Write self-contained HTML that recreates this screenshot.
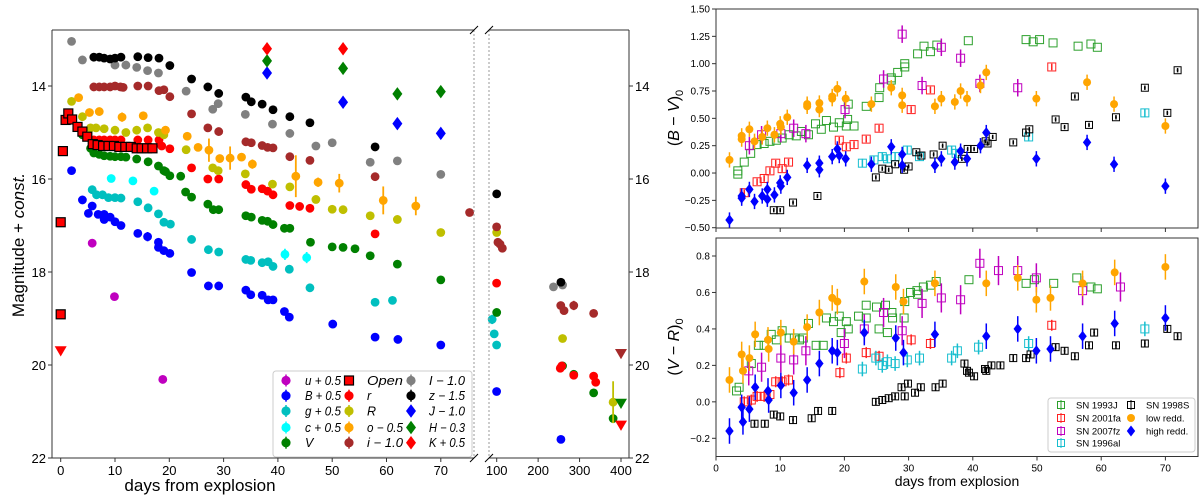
<!DOCTYPE html>
<html><head><meta charset="utf-8">
<style>
html,body{margin:0;padding:0;background:#fff;}
svg{display:block;font-family:"Liberation Sans","DejaVu Sans",sans-serif;}
</style></head>
<body>
<svg id="fig" width="1200" height="497" viewBox="0 0 1200 497" xmlns="http://www.w3.org/2000/svg">
<g id="left"></g>
<g id="right"></g>
</svg>
<script>
// ---------- Left panel data: [day, mag, err] ----------
const uBand=[[5.8,17.38],[9.9,18.53],[18.8,20.31]];
const BBand=[[2,15.82],[4,16.45],[5.1,16.74],[5.8,16.58],[6.9,16.76],[8,16.76],[8,16.87],[9.1,16.82],[10,16.92],[11.1,17.0],[14.2,17.17],[16,17.24,0.1],[18,17.36],[18,17.47],[19,17.54],[20.1,17.6],[24.1,18.01],[27.2,18.3],[29.1,18.3],[34.1,18.39],[35,18.49],[37.1,18.5],[38.2,18.6],[39.1,18.6],[41.2,18.85],[42.1,18.97],[50.1,19.12],[57.9,19.4],[62.1,19.45],[70,19.57],[99.8,20.57],[255,21.6,0.08]];
const gBand=[[5.8,16.23],[6.6,16.34],[7.7,16.34],[8.8,16.4],[10,16.4],[11.1,16.41],[14.2,16.49],[16.1,16.62],[18,16.75],[19,16.93],[20.2,16.97],[24.1,17.3],[27.2,17.52],[29.1,17.57],[34.1,17.73],[35,17.75],[37.1,17.8],[38.2,17.78],[39.1,17.88],[42.1,17.94],[45.9,18.34],[57.9,18.65],[61.1,18.61],[89,19.02,0.1],[94,19.33],[99.8,19.57]];
const cBand=[[9.3,15.99],[13.3,16.04],[17.2,16.26],[41.3,17.62,0.12],[45.3,17.69,0.12]];
const VBand=[[4,15.05,0.08],[5.5,15.34],[6.1,15.44],[7.1,15.47],[8,15.5],[9.1,15.51],[10,15.52],[11.1,15.52],[12,15.53],[14,15.57],[16.1,15.63],[18,15.72],[19,15.82],[19.3,15.84],[20.1,15.93],[22.1,15.94],[23,16.28],[24.1,16.39],[27.1,16.54],[28.1,16.66],[29.1,16.66],[34.1,16.79],[35.1,16.82],[37.1,16.89],[38.1,16.91],[39.1,16.98],[41.2,17.06],[42.2,17.06],[46,17.36],[50,17.46],[52,17.47],[54.2,17.5],[57,17.65],[62,17.83],[70,18.17],[100,18.87],[259,20.02],[286,20.2,0.05],[334,20.6],[381,21.15,0.06]];
const openBand=[[0,16.93],[0,18.91,0.1],[0.4,15.4],[0.9,14.73],[1.4,14.59],[2.1,14.72],[3.1,14.88],[4,14.98],[4.9,15.09],[5.9,15.25],[6.8,15.27],[7.8,15.29],[8.8,15.29],[9.8,15.29],[10.8,15.31],[11.9,15.31],[12.9,15.31],[14,15.34],[14.9,15.34],[15.9,15.34],[16.9,15.34]];
const rBand=[[6.1,15.16],[7.1,15.16],[8,15.16],[9.1,15.16],[10,15.16],[11.1,15.16],[14.2,15.16],[16.1,15.16],[18.1,15.16],[18.6,15.29],[20.1,15.35],[24.1,15.76],[27.1,16.0],[29.1,16.0],[34.1,16.12],[35.1,16.22],[37.1,16.21],[38.1,16.26],[39.1,16.34],[42.2,16.57],[44,16.59],[45.9,16.63],[57.9,17.18,0.08],[99.8,18.24],[253.5,20.07],[257,20.02],[286,20.22],[334,20.24],[339,20.37]];
const RBand=[[2,14.33],[4,14.66],[5.5,14.9],[6.5,14.9],[8,14.92],[10,14.95],[12,15.0],[14,14.95],[16,14.9],[18,15.0],[19,15.05],[23.1,15.37],[28,15.76],[29,15.82],[34,15.89],[39,16.11],[42.2,16.17],[47,16.44],[50,16.65],[52,16.66],[57,16.79],[62,16.87],[70,17.15],[100,17.15],[259,19.43],[381,20.8,0.45]];
const oBand=[[3.3,14.25,0.05],[5.3,14.57],[7.1,14.55],[11.3,14.67,0.1],[15.2,14.64,0.08],[19.3,14.95],[23.3,15.08],[25.3,15.32],[27.3,15.38,0.25],[29.3,15.56],[31.2,15.55,0.25],[33.3,15.53,0.08],[35.3,15.68,0.1],[43.3,15.94,0.45],[47.4,16.07,0.1],[51.3,16.09,0.2],[59.4,16.46,0.3],[65.4,16.58,0.2]];
const iBand=[[6.1,14.02],[7.1,14.02],[8,14.02],[9.1,14.02],[10,14.0],[11,14.02],[11.5,14.03],[14.2,14.0],[16.1,14.0],[18.1,14.1],[19,14.08],[20.1,14.23],[24.1,14.6],[27.1,14.9],[29.1,14.98],[34.1,15.2],[35.1,15.22],[37.1,15.28],[38.1,15.32],[39.1,15.33],[42.2,15.52],[45.9,15.6],[57.9,15.95],[75.3,16.72],[99.8,17.03],[103,17.36],[108,17.4],[113.6,17.49],[254.6,18.72],[262.5,18.83],[286,18.72,0.1],[334,18.89]];
const IBand=[[2,13.04],[4,13.44],[10,13.55],[12,13.55],[14,13.6],[16,13.67],[18,13.72],[23.1,14.11],[28,14.5],[29,14.38],[34,14.61,0.08],[39,14.82],[42.2,15.02],[47,15.29],[50,15.22],[57,15.64],[62,15.61],[70,15.9],[237,18.32],[259,18.28]];
const zBand=[[6.1,13.38],[7.1,13.38],[8,13.4],[9.1,13.42],[10,13.4],[11.1,13.38],[14.2,13.37],[16.1,13.39],[18.1,13.4],[20.1,13.56],[24.1,13.85],[27.1,14.02],[29.1,14.16],[34.1,14.24],[35.1,14.34],[37.1,14.39],[39.1,14.51],[42.2,14.66],[45.9,14.79],[57.9,15.31],[100,16.32],[255,18.22]];
const JBand=[[38,13.72],[52,14.35],[62,14.81,0.1],[70,15.02,0.12]];
const HBand=[[38,13.46],[52,13.62],[62,14.17],[70,14.12]];
const KBand=[[38,13.2],[52,13.2]];
const upperLimits=[[0,19.7,'#ff0000'],[400,19.76,'#a52a2a'],[400,20.83,'#008000'],[400,21.3,'#ff0000']];
const magTicks=[14,16,18,20,22];
const earlyDayTicks=[0,10,20,30,40,50,60,70];
const lateDayTicks=[100,200,300,400];

// ---------- Right panels data: [day, value] ----------
const bv93J=[[3.4,-0.01],[3.4,0.02],[4.4,0.10],[5.4,0.18],[6.4,0.26],[7.5,0.27],[8.4,0.29],[9.4,0.30],[10.3,0.32],[11.4,0.35],[12.5,0.34],[13.3,0.38],[14.4,0.35],[15.5,0.45],[16.4,0.40],[17.2,0.48],[18.3,0.42],[19.2,0.46],[20.3,0.43],[20.5,0.49],[21.5,0.43],[20.6,0.63],[23.4,0.61],[25.4,0.69],[25.5,0.78],[27.3,0.85],[27.3,0.87],[28.3,0.92],[29.4,0.97],[29.4,1.0],[31.4,1.09],[32.4,1.16],[33.4,1.11],[34.4,1.17],[39.3,1.21],[48.3,1.22],[49.4,1.2],[50.4,1.22],[52.5,1.19],[56.4,1.16],[58.4,1.18],[59.4,1.15]];
const bv01fa=[[4.4,-0.18],[6.4,-0.08],[7.5,-0.05],[8.4,0.02],[9.3,0.09],[10.3,0.04],[11.3,0.10],[19.2,0.30],[20.3,0.24],[21.5,0.26],[23.4,0.31],[25.4,0.41],[30.4,0.58],[33.4,0.76],[52.3,0.97]];
const bv07fz=[[5.2,0.25],[7.1,0.35],[10.1,0.36],[12.1,0.41],[14,0.36],[20.1,0.58],[26.1,0.86],[29,1.27],[32.1,0.80],[35.1,1.15],[38.1,1.05],[41.1,0.82],[47,0.78]];
const bv96al=[[22.8,0.09],[24.6,0.12],[25.9,0.15],[26.7,0.13],[27.9,0.15],[29.8,0.21],[31.7,0.15],[36.7,0.21],[37.4,0.18],[48.7,0.33],[66.8,0.55]];
const bv98S=[[9,-0.34],[10,-0.34],[12,-0.27],[15.8,-0.21],[24.9,-0.04],[25.9,0.04],[26.9,0.03],[27.9,0.08],[29.3,0.03],[30,0.06],[31.2,0.19],[32,0.16],[33.9,0.17],[35.3,0.25],[38.3,0.13],[39.2,0.22],[40.2,0.22],[42,0.29],[42.3,0.27],[43.1,0.33],[46.3,0.28],[48.3,0.37],[48.8,0.40],[52.9,0.49],[54.3,0.42],[55.9,0.70],[58.1,0.44],[62.3,0.51],[66.8,0.78],[70.3,0.55],[71.9,0.94]];
const bvLow=[[2.1,0.12],[4,0.34],[4,0.31],[5.2,0.40],[6,0.29],[7.2,0.33],[8,0.41],[9.1,0.35],[10,0.45],[10.1,0.42],[11.1,0.51],[14.2,0.61],[14.2,0.63],[16.1,0.64],[16.1,0.58],[18.1,0.68],[18.1,0.70],[18.9,0.77],[20.2,0.68],[24.2,0.63],[27.3,0.78],[29,0.71],[29,0.62],[34.1,0.61],[35.1,0.68],[37.2,0.65],[38.1,0.75],[39.1,0.68],[41.2,0.80],[42.1,0.92],[49.9,0.68],[57.8,0.83],[62,0.63],[70,0.43]];
const bvHigh=[[2.1,-0.43],[4,-0.21],[4,-0.23],[5.2,-0.15],[6,-0.26],[7.2,-0.21],[8,-0.24],[8,-0.15],[9.1,-0.20],[10,-0.09],[10.1,-0.12],[11.1,-0.04],[14.2,0.07],[16.1,0.09],[16.1,0.03],[18.1,0.15],[18.9,0.22],[19.2,0.16],[20.2,0.13],[24.2,0.08],[27.3,0.24],[29,0.17],[29,0.07],[34.1,0.07],[35.1,0.13],[37.2,0.10],[38.1,0.20],[39.1,0.13],[41.2,0.25],[42.1,0.37],[49.9,0.13],[57.8,0.28],[62,0.08],[70,-0.12]];
const vr93J=[[3.2,0.06],[3.6,0.08],[5.5,0.21],[6.6,0.31],[7.5,0.31],[8.6,0.37],[9.4,0.34],[10.3,0.39],[11.4,0.35],[12.2,0.35],[13,0.34],[13.6,0.35],[14.4,0.43],[15.6,0.31],[16.7,0.31],[17.2,0.46],[18.3,0.44],[19.2,0.47],[19.5,0.38],[20.3,0.44],[20.6,0.40],[22.2,0.47],[23.4,0.53],[23.4,0.46],[25,0.52],[25.4,0.40],[26.4,0.53],[26.7,0.38],[27.4,0.49],[27.5,0.46],[29.4,0.55],[29.3,0.46],[30.3,0.60],[31.3,0.61],[31.4,0.59],[32.3,0.63],[33.4,0.64],[34.3,0.66],[39.4,0.67],[48.3,0.65],[49.6,0.67],[52.6,0.65],[56.2,0.68],[58.4,0.63],[59.4,0.62]];
const vr01fa=[[4.4,0.0],[5.5,0.01],[6.4,0.03],[7.5,0.03],[8.4,0.04],[9.3,0.11],[10.3,0.11],[11.3,0.12],[19.3,0.16],[20.3,0.24],[23.4,0.27],[25.4,0.25],[30.4,0.34],[33.4,0.32],[52.3,0.42]];
const vr07fz=[[5.1,0.17],[7.1,0.19],[10.1,0.24],[12.1,0.23],[14,0.28],[20,0.32],[23.1,0.40],[26.1,0.49],[29,0.39],[32.1,0.54],[35.1,0.57],[38.1,0.56],[41.1,0.76],[44,0.72],[47,0.72],[49.9,0.68],[57.1,0.61],[63,0.63]];
const vr96al=[[22.8,0.18],[24.9,0.24],[25.9,0.20],[26.7,0.22],[27.9,0.21],[29.8,0.23],[31.7,0.24],[36.7,0.24],[37.6,0.28],[40.9,0.30],[48.7,0.32],[66.8,0.40]];
const vr98S=[[6,-0.12],[7.6,-0.12],[9,-0.07],[10,-0.08],[12,-0.10],[14.9,-0.09],[15.9,-0.05],[18.1,-0.05],[24.9,0.0],[25.9,0.01],[26.9,0.02],[27.9,0.03],[28.9,0.08],[29.4,0.03],[29.9,0.10],[31,0.05],[31.9,0.08],[34.2,0.08],[35.3,0.10],[38.7,0.21],[39.1,0.17],[39.4,0.16],[40.2,0.14],[41.9,0.18],[42.1,0.17],[42.9,0.20],[44.3,0.20],[46.3,0.24],[48.3,0.24],[49,0.26],[52.9,0.30],[54.3,0.28],[55.9,0.25],[58.1,0.31],[58.9,0.38],[62.3,0.31],[66.8,0.32],[70.3,0.40],[71.9,0.36]];
const vrLow=[[2.1,0.12],[4,0.26],[4.2,0.17],[5.2,0.24],[6.1,0.37],[8.1,0.34],[8.2,0.29],[10.1,0.38],[12.1,0.33],[14.2,0.41],[16.1,0.49],[18.1,0.57],[18.9,0.55],[23.1,0.66],[28,0.63],[29.2,0.55],[34.1,0.65],[42.1,0.65],[47,0.68],[49.9,0.56],[52.1,0.57],[57.1,0.65],[62.1,0.71],[70,0.74]];
const vrHigh=[[2.1,-0.16],[4,-0.03],[4.2,-0.11],[5.2,-0.04],[6.1,0.08],[8.1,0.06],[8.2,0.01],[10.1,0.09],[12.1,0.05],[14.2,0.12],[16.1,0.21],[18.1,0.28],[18.9,0.27],[23.1,0.38],[28,0.35],[29.2,0.27],[34.1,0.37],[42.1,0.36],[47,0.40],[49.9,0.28],[52.1,0.29],[57.1,0.36],[62.1,0.43],[70,0.46]];
const bvTicks=[-0.5,-0.25,0,0.25,0.5,0.75,1.0,1.25,1.5];
const vrTicks=[-0.2,0,0.2,0.4,0.6,0.8];
const colorDayTicks=[0,10,20,30,40,50,60,70];

const NS='http://www.w3.org/2000/svg';
function el(tag,attrs,parent){const e=document.createElementNS(NS,tag);for(const k in attrs)e.setAttribute(k,attrs[k]);parent.appendChild(e);return e;}

// ---------- left axes ----------
const L=document.getElementById('left');
function lx(d){return d<78?60.7+5.43*d:496.7+(d-100)*0.4143;}
function ly(m){return 179+(m-16)*46.5;}
const TOP=30,BOT=458;

function marker(parent,shape,x,y,fill,stroke,s){
  let e;
  if(shape==='o'){e=el('circle',{cx:x,cy:y,r:s,fill:fill},parent);}
  else if(shape==='s'){e=el('rect',{x:x-s,y:y-s,width:2*s,height:2*s,fill:fill,stroke:stroke,'stroke-width':1.2},parent);}
  else if(shape==='D'){e=el('polygon',{points:`${x},${y-s*1.35} ${x+s},${y} ${x},${y+s*1.35} ${x-s},${y}`,fill:fill},parent);}
  else if(shape==='v'){e=el('polygon',{points:`${x-s},${y-s*0.8} ${x+s},${y-s*0.8} ${x},${y+s*0.9}`,fill:fill},parent);}
  return e;
}

const leftSeries=[
 {key:'u',data:uBand,col:'#bf00bf',sh:'o',lab:'u + 0.5'},
 {key:'B',data:BBand,col:'#0000ff',sh:'o',lab:'B + 0.5'},
 {key:'g',data:gBand,col:'#00bfbf',sh:'o',lab:'g + 0.5'},
 {key:'c',data:cBand,col:'#00ffff',sh:'o',lab:'c + 0.5'},
 {key:'V',data:VBand,col:'#008000',sh:'o',lab:'V'},
 {key:'r',data:rBand,col:'#ff0000',sh:'o',lab:'r'},
 {key:'R',data:RBand,col:'#bfbf00',sh:'o',lab:'R'},
 {key:'o',data:oBand,col:'#ffa500',sh:'o',lab:'o − 0.5'},
 {key:'i',data:iBand,col:'#a52a2a',sh:'o',lab:'i − 1.0'},
 {key:'I',data:IBand,col:'#808080',sh:'o',lab:'I − 1.0'},
 {key:'z',data:zBand,col:'#000000',sh:'o',lab:'z − 1.5'},
 {key:'open',data:openBand,col:'#ff0000',sh:'s',lab:'Open'},
 {key:'J',data:JBand,col:'#0000ff',sh:'D',lab:'J − 1.0'},
 {key:'H',data:HBand,col:'#008000',sh:'D',lab:'H − 0.3'},
 {key:'K',data:KBand,col:'#ff0000',sh:'D',lab:'K + 0.5'}
];
leftSeries.forEach(s=>{
  const g=el('g',{},L);
  
  
  s.data.forEach(p=>{
    const x=lx(p[0]),y=ly(p[1]);
    if(p[2]){const eb=el('line',{x1:x,x2:x,y1:ly(p[1]-p[2]),y2:ly(p[1]+p[2]),stroke:s.col,'stroke-width':1.8},g);
      
      }
    const m=marker(g,s.sh,x,y,s.col,'#000',s.sh==='s'?4.5:(s.sh==='D'?5:4.4));
    
    
  });
});
upperLimits.forEach(p=>{
  const m=marker(L,'v',lx(p[0]),ly(p[1]),p[2],'',6);
  
  
});

// frames
[[52,TOP,474,TOP],[52,BOT,474,BOT],[52,TOP,52,BOT],[489,TOP,629,TOP],[489,BOT,629,BOT],[629,TOP,629,BOT]].forEach(a=>{
  const ln=el('line',{x1:a[0],y1:a[1],x2:a[2],y2:a[3],stroke:'#333','stroke-width':1},L);
  
  
});
[474,489].forEach(x=>{
  const ln=el('line',{x1:x,y1:TOP,x2:x,y2:BOT,stroke:'#999','stroke-width':1,'stroke-dasharray':'2,2'},L);
  
  
});
[[470,TOP+4,478,TOP-4],[485,TOP+4,493,TOP-4],[470,BOT+4,478,BOT-4],[485,BOT+4,493,BOT-4]].forEach(a=>{
  const ln=el('line',{x1:a[0],y1:a[1],x2:a[2],y2:a[3],stroke:'#000','stroke-width':1},L);
  
  
});
magTicks.forEach(m=>{
  const y=ly(m);
  el('line',{x1:48,x2:52,y1:y,y2:y,stroke:'#333'},L);
  const t=el('text',{x:46,y:y+5,'font-size':13,'text-anchor':'end'},L);t.textContent=m;
  
  
  el('line',{x1:629,x2:633,y1:y,y2:y,stroke:'#333'},L);
  const t2=el('text',{x:635,y:y+5,'font-size':13},L);t2.textContent=m;
  
  
});
earlyDayTicks.concat(lateDayTicks).forEach(d=>{
  const x=lx(d);
  el('line',{x1:x,x2:x,y1:BOT,y2:BOT+4,stroke:'#333'},L);
  const t=el('text',{x:x,y:BOT+17,'font-size':13,'text-anchor':'middle'},L);t.textContent=d;
  
  
});
const xl=el('text',{x:200,y:491,'font-size':17,'text-anchor':'middle'},L);xl.textContent='days from explosion';


const yl=el('text',{x:0,y:0,'font-size':17,'text-anchor':'middle',transform:'translate(24,245) rotate(-90)'},L);
yl.innerHTML='Magnitude + <tspan font-style="italic">const.</tspan>';



// left legend
const lg=el('g',{},L);


el('rect',{x:273,y:371,width:199,height:86,rx:3,fill:'#fff','fill-opacity':0.85,stroke:'#ccc'},lg);
const legOrder=[['u','B','g','c','V'],['open','r','R','o','i'],['I','z','J','H','K']];
const colX=[[286,305],[349,367],[411,429]];
const rowY=[380.5,395.7,411,427.5,442.7];
legOrder.forEach((col,ci)=>col.forEach((k,ri)=>{
  const s=leftSeries.find(q=>q.key===k);
  const e=el('g',{},lg);
  
  
  const x=colX[ci][0],y=rowY[ri];
  if(s.sh==='o'){el('line',{x1:x,x2:x,y1:y-6,y2:y+6,stroke:s.col,'stroke-width':1.5},e);}
  marker(e,s.sh,x,y,s.col,'#000',s.sh==='s'?4.5:(s.sh==='D'?5:4.6));
  const t=el('text',{x:colX[ci][1],y:y+4.5,'font-size':12.5,'font-style':'italic','textLength':s.lab.length>2?36:(s.lab.length>1?28:0),'lengthAdjust':'spacingAndGlyphs'},e);
  if(s.lab.length<=1)t.removeAttribute('textLength');
  t.textContent=s.lab;
}));

// ---------- right panels ----------
const R=document.getElementById('right');
const RX0=716,RX1=1198;
function rx(d){return RX0+6.42*d;}
function topY(v){return 9+(1.5-v)*109.35;}
function botY(v){return 256+(0.8-v)*182.3;}
function panel(name,y0,y1,ticks,yf,fmt,labelY,labTxt,showX){
  const g=el('g',{},R);
  
  
  el('rect',{x:RX0,y:y0,width:RX1-RX0,height:y1-y0,fill:'none',stroke:'#333'},g);
  ticks.forEach(v=>{
    const y=yf(v);
    el('line',{x1:RX0-4,x2:RX0,y1:y,y2:y,stroke:'#333'},g);
    const t=el('text',{x:RX0-6,y:y+3.5,'font-size':10,'text-anchor':'end'},g);
    t.textContent=fmt(v);
  });
  colorDayTicks.forEach(d=>{
    el('line',{x1:rx(d),x2:rx(d),y1:y1,y2:y1+4,stroke:'#333'},g);
    if(showX){const t=el('text',{x:rx(d),y:y1+15,'font-size':10,'text-anchor':'middle'},g);t.textContent=d;}
  });
  const yt=el('text',{x:0,y:0,'font-size':16,'text-anchor':'middle',transform:`translate(679,${labelY}) rotate(-90)`},g);
  yt.innerHTML=labTxt;
  
  
  return g;
}
const fmt2=v=>(v<0?'−':'')+Math.abs(v).toFixed(2);
const fmt1=v=>(v<0?'−':'')+Math.abs(v).toFixed(1);
const gTop=panel('bv-panel',9,228,bvTicks,topY,fmt2,118,'(<tspan font-style="italic">B</tspan> − <tspan font-style="italic">V</tspan>)<tspan font-size="11" dy="4">0</tspan>',false);
const gBot=panel('vr-panel',238,456.5,vrTicks,botY,fmt1,347,'(<tspan font-style="italic">V</tspan> − <tspan font-style="italic">R</tspan>)<tspan font-size="11" dy="4">0</tspan>',true);
const rxl=el('text',{x:957,y:486,'font-size':14,'text-anchor':'middle'},R);rxl.textContent='days from explosion';



function colorSeries(g,yf,data,col,sh,err,key){
  const sg=el('g',{},g);
  
  
  data.forEach(p=>{
    const x=rx(p[0]),y=yf(p[1]);
    if(err){el('line',{x1:x,x2:x,y1:yf(p[1]+err),y2:yf(p[1]-err),stroke:col,'stroke-width':1.5},sg);}
    let m;
    if(sh==='s'){m=el('rect',{x:x-4,y:y-4,width:8,height:8,fill:'none',stroke:col,'stroke-width':1},sg);}
    else if(sh==='sk'){m=el('rect',{x:x-3.5,y:y-3.5,width:7,height:7,fill:'none',stroke:'#000','stroke-width':1},sg);
      el('rect',{x:x-0.8,y:y-0.8,width:1.6,height:1.6,fill:'#000'},sg);}
    else if(sh==='o'){m=el('circle',{cx:x,cy:y,r:4,fill:col},sg);}
    else {m=el('polygon',{points:`${x},${y-5.5} ${x+4.2},${y} ${x},${y+5.5} ${x-4.2},${y}`,fill:col},sg);}
    
    
  });
}
[[gTop,topY,bv93J,bv01fa,bv07fz,bv96al,bv98S,bvLow,bvHigh,'bv'],[gBot,botY,vr93J,vr01fa,vr07fz,vr96al,vr98S,vrLow,vrHigh,'vr']].forEach(a=>{
  const [g,yf,s93,s01,s07,s96,s98,lo,hi,k]=a;
  colorSeries(g,yf,s93,'#2ca02c','s',0,k+'-sn1993j');
  colorSeries(g,yf,s01,'#ff2020','s',0.03,k+'-sn2001fa');
  colorSeries(g,yf,s07,'#bf00bf','s',0.08,k+'-sn2007fz');
  colorSeries(g,yf,s96,'#17becf','s',0.04,k+'-sn1996al');
  colorSeries(g,yf,s98,'#000','sk',0.02,k+'-sn1998s');
  colorSeries(g,yf,lo,'#ffa500','o',0.07,k+'-low-redd');
  colorSeries(g,yf,hi,'#0000ff','D',0.07,k+'-high-redd');
});
// right legend
const rl=el('g',{},R);


el('rect',{x:1048,y:398,width:147,height:54,rx:3,fill:'#fff','fill-opacity':0.9,stroke:'#ccc'},rl);
const rlEntries=[['SN 1993J','#2ca02c','s',1061,405],['SN 2001fa','#ff2020','s',1061,418],['SN 2007fz','#bf00bf','s',1061,431],['SN 1996al','#17becf','s',1061,443],['SN 1998S','#000','s',1131,405],['low redd.','#ffa500','o',1131,418],['high redd.','#0000ff','D',1131,431]];
rlEntries.forEach(e=>{
  const g=el('g',{},rl);
  
  
  const [lab,col,sh,x,y]=e;
  if(sh==='s'){el('rect',{x:x-3.5,y:y-3.5,width:7,height:7,fill:'none',stroke:col},g);
    el('line',{x1:x,x2:x,y1:y-5,y2:y+5,stroke:col},g);}
  else if(sh==='o'){el('circle',{cx:x,cy:y,r:4,fill:col},g);}
  else{el('polygon',{points:`${x},${y-5.5} ${x+4.2},${y} ${x},${y+5.5} ${x-4.2},${y}`,fill:col},g);}
  const t=el('text',{x:x+15,y:y+3.5,'font-size':9.5},g);t.textContent=lab;
});
</script>
</body></html>
